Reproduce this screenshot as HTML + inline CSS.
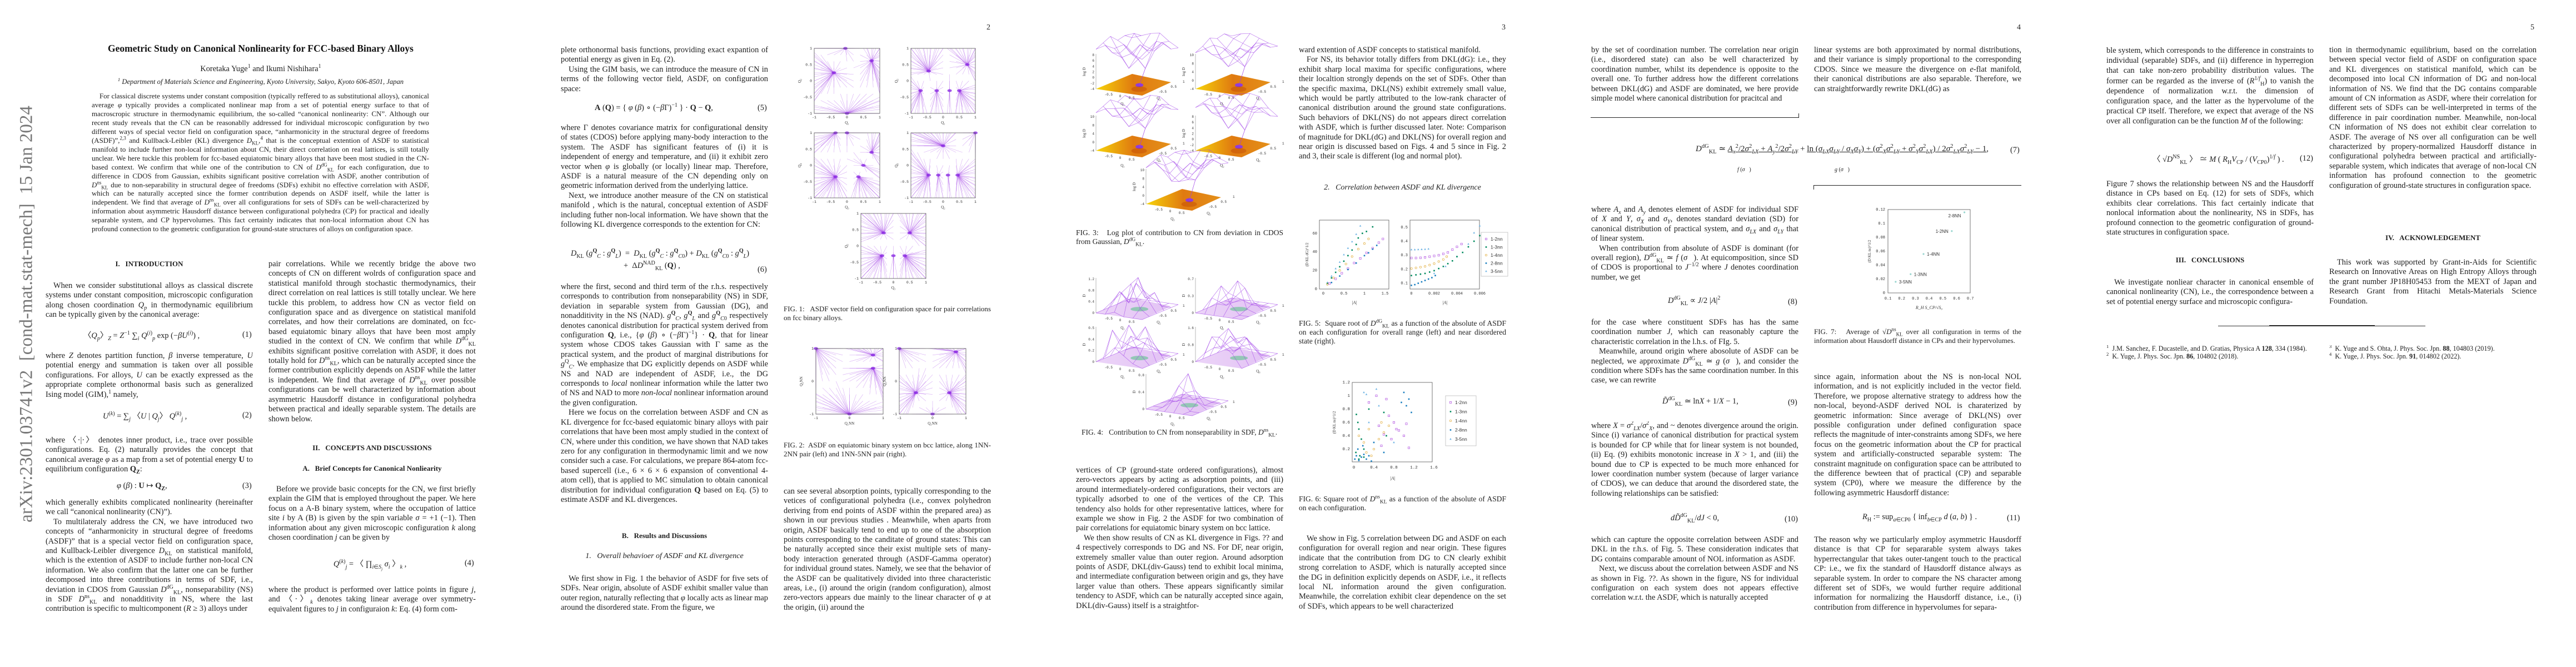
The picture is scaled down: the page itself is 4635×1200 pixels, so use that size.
<!DOCTYPE html>
<html><head><meta charset="utf-8">
<style>
html,body{margin:0;padding:0;background:#fff;}
body{width:4635px;height:1200px;overflow:hidden;position:relative;}
.pg{position:absolute;top:0;width:927px;height:1200px;background:#fff;}
.t{position:absolute;font-family:"Liberation Serif",serif;font-size:14.4px;line-height:17.4px;text-align:justify;overflow:hidden;color:#1e1e1e;hyphens:auto;}
.ind{text-indent:14px;}
.eq{position:absolute;font-family:"Liberation Serif",serif;font-size:14.4px;color:#1e1e1e;white-space:nowrap;}
.num{position:absolute;font-family:"Liberation Serif",serif;font-size:14.4px;color:#1e1e1e;}
.h{position:absolute;font-family:"Liberation Serif",serif;font-size:13px;font-weight:bold;text-align:center;color:#1e1e1e;white-space:nowrap;}
.hi{position:absolute;font-family:"Liberation Serif",serif;font-size:14px;font-style:italic;text-align:center;color:#1e1e1e;white-space:nowrap;}
.cap{position:absolute;font-family:"Liberation Serif",serif;font-size:13px;line-height:16px;text-align:justify;color:#222;overflow:hidden;}
.pn{position:absolute;font-family:"Liberation Serif",serif;font-size:14px;color:#222;top:42px;left:848px;}
svg{position:absolute;left:0;top:0;}
sub,sup{font-size:70%;line-height:0;}
</style></head><body>

<!-- PAGE 1 -->
<div class="pg" style="left:0">
<div style="position:absolute;left:48px;top:565px;transform:translate(-50%,-50%) rotate(-90deg);font-family:'Liberation Serif',serif;font-size:33px;color:#777;white-space:nowrap;">arXiv:2301.03741v2&nbsp; [cond-mat.stat-mech]&nbsp; 15 Jan 2024</div>
<div style="position:absolute;left:0;width:938px;top:77px;text-align:center;font-family:'Liberation Serif',serif;font-weight:bold;font-size:17.5px;color:#111;">Geometric Study on Canonical Nonlinearity for FCC-based Binary Alloys</div>
<div style="position:absolute;left:0;width:938px;top:116px;text-align:center;font-family:'Liberation Serif',serif;font-size:14.4px;color:#1e1e1e;">Koretaka Yuge<sup>1</sup> and Ikumi Nishihara<sup>1</sup></div>
<div style="position:absolute;left:0;width:938px;top:140px;text-align:center;font-family:'Liberation Serif',serif;font-style:italic;font-size:12.6px;color:#1e1e1e;"><sup>1</sup> Department of Materials Science and Engineering, Kyoto University, Sakyo, Kyoto 606-8501, Japan</div>
<div class="t ind" style="left:165px;top:166px;width:607px;height:272px;font-size:12.9px;line-height:15.95px;">For classical discrete systems under constant composition (typically reffered to as substitutional alloys), canonical average <i>φ</i> typically provides a complicated nonlinear map from a set of potential energy surface to that of macroscropic structure in thermodynamic equilibrium, the so-called “canonical nonlinearity: CN”. Although our recent study reveals that the CN can be reasonablly addressed for individual microscopic configuration by two different ways of special vector field on configuration space, “anharmonicity in the structural degree of freedoms (ASDF)”,<sup>2,3</sup> and Kullback-Leibler (KL) divergence <i>D</i><sub>KL</sub>,<sup>4</sup> that is the conceptual extention of ASDF to statistical manifold to include further non-local information about CN, their direct correlation on real lattices, is still totally unclear. We here tuckle this problem for fcc-based equiatomic binary alloys that have been most studied in the CN-based context. We confirm that while one of the contribution to CN of <i>D</i><sup>dG</sup><sub>KL</sub> for each configuration, due to difference in CDOS from Gaussian, exhibits significant positive correlation with ASDF, another contribution of <i>D</i><sup>ns</sup><sub>KL</sub> due to non-separability in structural degee of freedoms (SDFs) exhibit no effective correlation with ASDF, which can be naturally accepted since the former contribution depends on ASDF itself, while the latter is independent. We find that average of <i>D</i><sup>ns</sup><sub>KL</sub> over all configurations for sets of SDFs can be well-characterized by information about asymmetric Hausdorff distance between configurational polyhedra (CP) for practical and ideally separable system, and CP hypervolumes. This fact certainly indicates that non-local information about CN has profound connection to the geometric configuration for ground-state structures of alloys on configuration space.</div>
<div class="h" style="left:82px;width:373px;top:467px;">I.&nbsp;&nbsp; INTRODUCTION</div>
<div class="t ind" style="left:82px;top:506px;width:373px;height:70px;">When we consider substitutional alloys as classical discrete systems under constant composition, microscopic configuration along chosen coordination <i>Q<sub>p</sub></i> in thermodynamic equilibrium can be typically given by the canonical average:</div>
<div class="eq" style="left:150px;top:592px;">〈<i>Q<sub>p</sub></i>〉<sub><i>Z</i></sub> = <i>Z</i><sup>−1</sup> ∑<sub><i>i</i></sub> <i>Q</i><sup>(<i>i</i>)</sup><sub><i>p</i></sub> exp (−<i>βU</i><sup>(<i>i</i>)</sup>) ,</div>
<div class="num" style="left:436px;top:594px;">(1)</div>
<div class="t" style="left:82px;top:632px;width:373px;height:88px;">where <i>Z</i> denotes partition function, <i>β</i> inverse temperature, <i>U</i> potential energy and summation is taken over all possible configurations. For alloys, <i>U</i> can be exactly expressed as the appropriate complete orthonormal basis such as generalized Ising model (GIM),<sup>1</sup> namely,</div>
<div class="eq" style="left:185px;top:737px;"><i>U</i><sup>(<i>k</i>)</sup> = ∑<sub><i>j</i></sub> 〈<i>U</i> | <i>Q<sub>j</sub></i>〉 <i>Q</i><sup>(<i>k</i>)</sup><sub><i>j</i></sub> ,</div>
<div class="num" style="left:436px;top:739px;">(2)</div>
<div class="t" style="left:82px;top:784px;width:373px;height:70px;">where 〈·|·〉 denotes inner product, i.e., trace over possible configurations. Eq. (2) naturally provides the concept that canonical average <i>φ</i> as a map from a set of potential energy <b>U</b> to equilibrium configuration <b>Q<sub>Z</sub></b>:</div>
<div class="eq" style="left:210px;top:866px;"><i>φ</i> (<i>β</i>) : <b>U</b> ↦ <b>Q<sub>Z</sub></b>,</div>
<div class="num" style="left:436px;top:866px;">(3)</div>
<div class="t" style="left:82px;top:896px;width:373px;height:209px;">which generally exhibits complicated nonlinearity (hereinafter we call “canonical nonlinearity (CN)”).<br><span style="padding-left:14px"></span>To multilateraly address the CN, we have introduced two concepts of “anharmonicity in structural degree of freedoms (ASDF)” that is a special vector field on configuration space, and Kullback-Leibler divergence <i>D</i><sub>KL</sub> on statistical manifold, which is the extention of ASDF to include further non-local CN information. We also confirm that the latter one can be further decomposed into three contributions in terms of SDF, i.e., deviation in CDOS from Gaussian <i>D</i><sup>dG</sup><sub>KL</sub>, nonseparability (NS) in SDF <i>D</i><sup>ns</sup><sub>KL</sub> and nonadditivity in NS, where the last contribution is specific to multicomponent (<i>R</i> ≥ 3) alloys under</div>
<div class="t" style="left:483px;top:467px;width:373px;height:296px;">pair correlations. While we recently bridge the above two concepts of CN on different wolrds of configuration space and statistical manifold through stochastic thermodynamics, their direct correlation on real lattices is still totally unclear. We here tuckle this problem, to address how CN as vector field on configuration space and as divergence on statistical manifold correlates, and how their correlations are dominated, on fcc-based equiatomic binary alloys that have been most amply studied in the context of CN. We confirm that while <i>D</i><sup>dG</sup><sub>KL</sub> exhibits significant positive correlation with ASDF, it does not totally hold for <i>D</i><sup>ns</sup><sub>KL</sub>, which can be naturally accepted since the former contribution explicitly depends on ASDF while the latter is independent. We find that average of <i>D</i><sup>ns</sup><sub>KL</sub> over possible configurations can be well characterized by information about asymmetric Hausdorff distance in configurational polyhedra between practical and ideally separable system. The details are shown below.</div>
<div class="h" style="left:483px;width:373px;top:798px;">II.&nbsp;&nbsp; CONCEPTS AND DISCUSSIONS</div>
<div class="h" style="left:483px;width:373px;top:835px;">A.&nbsp;&nbsp; Brief Concepts for Canonical Nonliearity</div>
<div class="t ind" style="left:483px;top:872px;width:373px;height:105px;">Before we provide basic concepts for the CN, we first briefly explain the GIM that is employed throughout the paper. We here focus on a A-B binary system, where the occupation of lattice site <i>i</i> by A (B) is given by the spin variable <i>σ</i> = +1 (−1). Then information about any given microscopic configuration <i>k</i> along chosen coordination <i>j</i> can be given by</div>
<div class="eq" style="left:600px;top:1003px;"><i>Q</i><sup>(<i>k</i>)</sup><sub><i>j</i></sub> = 〈 ∏<sub><i>i</i>∈<i>S<sub>j</sub></i></sub> <i>σ<sub>i</sub></i> 〉<sub><i>k</i></sub> ,</div>
<div class="num" style="left:836px;top:1005px;">(4)</div>
<div class="t" style="left:483px;top:1053px;width:373px;height:53px;">where the product is performed over lattice points in figure <i>j</i>, and 〈·〉<sub><i>k</i></sub> denotes taking linear average over symmetry-equivalent figures to <i>j</i> in configuraion <i>k</i>: Eq. (4) form com-</div>
</div>

<!-- PAGE 2 -->
<div class="pg" style="left:927px">
<div class="pn">2</div>
<div class="t" style="left:82px;top:82px;width:373px;height:88px;">plete orthonormal basis functions, providing exact expantion of potential energy as given in Eq. (2).<br><span style="padding-left:14px"></span>Using the GIM basis, we can introduce the measure of CN in terms of the following vector field, ASDF, on configuration space:</div>
<div class="eq" style="left:143px;top:186px;"><b>A</b> (<b>Q</b>) = { <i>φ</i> (<i>β</i>) ∘ (−<i>β</i>Γ)<sup>−1</sup> } · <b>Q</b> − <b>Q</b>,</div>
<div class="num" style="left:436px;top:186px;">(5)</div>
<div class="t" style="left:82px;top:222px;width:373px;height:210px;">where Γ denotes covariance matrix for configurational density of states (CDOS) before applying many-body interaction to the system. The ASDF has significant features of (i) it is independent of energy and temperature, and (ii) it exhibit zero vector when <i>φ</i> is globally (or locally) linear map. Therefore, ASDF is a natural measure of the CN depending only on geometric information derived from the underlying lattice.<br><span style="padding-left:14px"></span>Next, we introduce another measure of the CN on statistical manifold , which is the natural, conceptual extention of ASDF including futher non-local information. We have shown that the following KL divergence corresponds to the extention for CN:</div>
<div class="eq" style="left:100px;top:445px;line-height:22px;"><i>D</i><sub>KL</sub> (<i>g</i><sup><b>Q</b></sup><sub><i>C</i></sub> : <i>g</i><sup><b>Q</b></sup><sub><i>L</i></sub>) &nbsp;=&nbsp; <i>D</i><sub>KL</sub> (<i>g</i><sup><b>Q</b></sup><sub><i>C</i></sub> : <i>g</i><sup><b>Q</b></sup><sub><i>C</i>0</sub>) + <i>D</i><sub>KL</sub> (<i>g</i><sup><b>Q</b></sup><sub><i>C</i>0</sub> : <i>g</i><sup><b>Q</b></sup><sub><i>L</i></sub>)<br><span style="padding-left:95px"></span>+ &nbsp;Δ<i>D</i><sup>NAD</sup><sub>KL</sub> (<b>Q</b>) ,</div>
<div class="num" style="left:436px;top:477px;">(6)</div>
<div class="t" style="left:82px;top:508px;width:373px;height:418px;">where the first, second and third term of the r.h.s. respectively corresponds to contribution from nonseparability (NS) in SDF, deviation in separable system from Gaussian (DG), and nonadditivity in the NS (NAD). <i>g</i><sup><b>Q</b></sup><sub><i>C</i></sub>, <i>g</i><sup><b>Q</b></sup><sub><i>L</i></sub> and <i>g</i><sup><b>Q</b></sup><sub><i>C</i>0</sub> respectively denotes canonical distribution for practical system derived from configuration <b>Q</b>, i.e., {<i>φ</i> (<i>β</i>) ∘ (−<i>β</i>Γ)<sup>−1</sup>} · <b>Q</b>, that for linear system whose CDOS takes Gaussian with Γ same as the practical system, and the product of marginal distributions for <i>g</i><sup>Q</sup><sub><i>C</i></sub>. We emphasize that DG explicitly depends on ASDF while NS and NAD are independent of ASDF, i.e., the DG corresponds to <i>local</i> nonlinear information while the latter two of NS and NAD to more <i>non-local</i> nonlinear information around the given configuration.<br><span style="padding-left:14px"></span>Here we focus on the correlation between ASDF and CN as KL divergence for fcc-based equiatomic binary alloys with pair correlations that have been most amply studied in the context of CN, where under this condition, we have shown that NAD takes zero for any configuration in thermodynamic limit and we now consider such a case. For calculations, we prepare 864-atom fcc-based supercell (i.e., 6 × 6 × 6 expansion of conventional 4-atom cell), that is applied to MC simulation to obtain canonical distribution for individual configuration <b>Q</b> based on Eq. (5) to estimate ASDF and KL divergences.</div>
<div class="h" style="left:82px;width:373px;top:956px;">B.&nbsp;&nbsp; Results and Discussions</div>
<div class="hi" style="left:82px;width:373px;top:993px;">1.&nbsp;&nbsp; Overall behavioer of ASDF and KL divergence</div>
<div class="t ind" style="left:82px;top:1033px;width:373px;height:70px;">We first show in Fig. 1 the behavior of ASDF for five sets of SDFs. Near origin, absolute of ASDF exhibit smaller value than outer region, naturally reflecting that <i>φ</i> locally acts as linear map around the disordered state. From the figure, we</div>
<div class="cap" style="left:483px;top:548px;width:373px;height:34px;">FIG. 1:&nbsp;&nbsp; ASDF vector field on configuration space for pair correlations on fcc binary alloys.</div>
<div class="cap" style="left:483px;top:793px;width:373px;height:34px;">FIG. 2:&nbsp; ASDF on equiatomic binary system on bcc lattice, along 1NN-2NN pair (left) and 1NN-5NN pair (right).</div>
<div class="t" style="left:483px;top:876px;width:373px;height:228px;">can see several absorption points, typically corresponding to the vetices of configurational polyhedra (i.e., convex polyhedron deriving from end points of ASDF within the prepared area) as shown in our previous studies . Meanwhile, when aparts from origin, ASDF basically tend to end up to one of the absorption points corresponding to the canditate of ground states: This can be naturally accepted since their exist multiple sets of many-body interaction generated through (ASDF-Gamma operator) for individual ground states. Namely, we see that the behavior of the ASDF can be qualitatively divided into three characteristic areas, i.e., (i) around the origin (random configuration), almost zero-vectors appears due mainly to the linear character of <i>φ</i> at the origin, (ii) around the</div>
<svg id="svg2" width="927" height="1200"></svg>
</div>

<!-- PAGE 3 -->
<div class="pg" style="left:1854px">
<div class="pn">3</div>
<div class="cap" style="left:82px;top:411px;width:373px;height:34px;font-size:13.5px;">FIG. 3:&nbsp;&nbsp; Log plot of contribution to CN from deviation in CDOS from Gaussian, <i>D</i><sup>dG</sup><sub>KL</sub>.</div>
<div class="cap" style="left:92px;top:770px;width:373px;height:18px;font-size:13.5px;">FIG. 4:&nbsp;&nbsp; Contribution to CN from nonseparability in SDF, <i>D</i><sup>ns</sup><sub>KL</sub>.</div>
<div class="t" style="left:82px;top:838px;width:373px;height:262px;">vertices of CP (ground-state ordered configurations), almost zero-vectors appears by acting as adsorption points, and (iii) around intermediately-ordered configurations, their vectors are typically adsorbed to one of the vertices of the CP. This tendency also holds for other representative lattices, where for example we show in Fig. 2 the ASDF for two combination of pair correlations for equiatomic binary system on bcc lattice.<br><span style="padding-left:14px"></span>We then show results of CN as KL divergence in Figs. ?? and 4 respectively corresponds to DG and NS. For DF, near origin, extremely smaller value than outer region. Around adsorption points of ASDF, DKL(div-Gauss) tend to exhibit local minima, and intermediate configuration between origin and gs, they have larger value than others. These appears significantly similar tendency to ASDF, which can be naturally accepted since again, DKL(div-Gauss) itself is a straightfor-</div>
<div class="t" style="left:483px;top:82px;width:373px;height:210px;">ward extention of ASDF concepts to statistical manifold.<br><span style="padding-left:14px"></span>For NS, its behavior totally differs from DKL(dG): i.e., they exhibit sharp local maxima for specific configurations, where their localtion strongly depends on the set of SDFs. Other than the specific maxima, DKL(NS) exhibit extremely small value, which would be partly attributed to the low-rank character of canonical distribution around the ground state configurations. Such behaviors of DKL(NS) do not appears direct correlation with ASDF, which is further discussed later. Note: Comparison of magnitude for DKL(dG) and DKL(NS) for overall region and near origin is discussed based on Figs. 4 and 5 since in Fig. 2 and 3, their scale is different (log and normal plot).</div>
<div class="hi" style="left:483px;width:373px;top:330px;">2.&nbsp;&nbsp; Correlation between ASDF and KL divergence</div>
<div class="cap" style="left:483px;top:574px;width:373px;height:50px;font-size:13.5px;">FIG. 5:&nbsp; Square root of <i>D</i><sup>dG</sup><sub>KL</sub> as a function of the absolute of ASDF on each configuration for overall range (left) and near disordered state (right).</div>
<div class="cap" style="left:483px;top:890px;width:373px;height:34px;font-size:13.5px;">FIG. 6: Square root of <i>D</i><sup>ns</sup><sub>KL</sub> as a function of the absolute of ASDF on each configuration.</div>
<div class="t ind" style="left:483px;top:961px;width:373px;height:140px;">We show in Fig. 5 correlation between DG and ASDF on each configuration for overall region and near origin. These figures indicate that the contribution from DG to CN clearly exhibit strong correlation to ASDF, which is naturally accepted since the DG in definition explicitly depends on ASDF, i.e., it reflects local NL information around the given configuration. Meanwhile, the correlation exhibit clear dependence on the set of SDFs, which appears to be well characterized</div>
<svg id="svg3" width="927" height="1200"></svg>
</div>

<!-- PAGE 4 -->
<div class="pg" style="left:2781px">
<div class="pn">4</div>
<div class="t" style="left:82px;top:82px;width:373px;height:105px;">by the set of coordination number. The correlation near origin (i.e., disordered state) can also be well characterized by coordination number, whilst its dependence is opposite to the overall one. To further address how the different correlations between DKL(dG) and ASDF are dominated, we here provide simple model where canonical distribution for pracitcal and</div>
<div style="position:absolute;left:81px;top:211px;width:374px;height:1px;background:#222;"></div>
<div style="position:absolute;left:455px;top:204px;width:1px;height:8px;background:#222;"></div>
<div class="eq" style="left:270px;top:258px;font-size:15px;"><i>D</i><sup>dG</sup><sub>KL</sub> ≃ <u><i>A</i><sub><i>x</i></sub><sup>2</sup>/2<i>σ</i><sup>2</sup><sub><i>LX</i></sub> + <i>A</i><sub><i>y</i></sub><sup>2</sup>/2<i>σ</i><sup>2</sup><sub><i>LY</i></sub></u> + <u>ln (<i>σ<sub>LX</sub>σ<sub>LY</sub></i> / <i>σ<sub>X</sub>σ<sub>Y</sub></i>) + (<i>σ</i><sup>2</sup><sub><i>X</i></sub><i>σ</i><sup>2</sup><sub><i>LY</i></sub> + <i>σ</i><sup>2</sup><sub><i>Y</i></sub><i>σ</i><sup>2</sup><sub><i>LX</i></sub>) / 2<i>σ</i><sup>2</sup><sub><i>LX</i></sub><i>σ</i><sup>2</sup><sub><i>LY</i></sub> − 1</u>,</div>
<div class="eq" style="left:345px;top:300px;font-size:10px;"><i>f</i> (<i>σ⃗</i>)</div>
<div class="eq" style="left:520px;top:300px;font-size:10px;"><i>g</i> (<i>σ⃗</i>)</div>
<div class="num" style="left:836px;top:262px;">(7)</div>
<div style="position:absolute;left:482px;top:333px;width:374px;height:1px;background:#222;"></div>
<div style="position:absolute;left:482px;top:333px;width:1px;height:8px;background:#222;"></div>
<div class="t" style="left:82px;top:369px;width:373px;height:140px;">where <i>A<sub>x</sub></i> and <i>A<sub>y</sub></i> denotes element of ASDF for individual SDF of <i>X</i> and <i>Y</i>, <i>σ<sub>X</sub></i> and <i>σ<sub>Y</sub></i>, denotes standard deviation (SD) for canonical distribution of practical system, and <i>σ<sub>LX</sub></i> and <i>σ<sub>LY</sub></i> that of linear system.<br><span style="padding-left:14px"></span>When contribution from absolute of ASDF is dominant (for overall region), <i>D</i><sup>dG</sup><sub>KL</sub> ≃ <i>f</i> (<i>σ⃗</i>). At equicomposition, since SD of CDOS is proportional to <i>J</i><sup>−1/2</sup> where <i>J</i> denotes coordination number, we get</div>
<div class="eq" style="left:220px;top:533px;"><i>D</i><sup>dG</sup><sub>KL</sub> ∝ <i>J</i>/2 |<i>A</i>|<sup>2</sup></div>
<div class="num" style="left:436px;top:535px;">(8)</div>
<div class="t" style="left:82px;top:572px;width:373px;height:123px;">for the case where constituent SDFs has has the same coordination number <i>J</i>, which can reasonably capture the characteristic correlation in the l.h.s. of FIg. 5.<br><span style="padding-left:14px"></span>Meanwhile, around origin where abosolute of ASDF can be neglected, we approximate <i>D</i><sup>dG</sup><sub>KL</sub> ≃ <i>g</i> (<i>σ⃗</i>), and consider the condition where SDFs has the same coordination number. In this case, we can rewrite</div>
<div class="eq" style="left:210px;top:714px;"><i>D̃</i><sup>dG</sup><sub>KL</sub> ≃ ln<i>X</i> + 1/<i>X</i> − 1,</div>
<div class="num" style="left:436px;top:716px;">(9)</div>
<div class="t" style="left:82px;top:758px;width:373px;height:140px;">where <i>X</i> = <i>σ</i><sup>2</sup><sub><i>LX</i></sub>/<i>σ</i><sup>2</sup><sub><i>X</i></sub>, and ~ denotes divergence around the origin. Since (i) variance of canonical distribution for practical system is bounded for CP while that for linear system is not bounded, (ii) Eq. (9) exhibits monotonic increase in <i>X</i> &gt; 1, and (iii) the bound due to CP is expected to be much more enhanced for lower coordination number system (because of larger variance of CDOS), we can deduce that around the disordered state, the following relationships can be satisfied:</div>
<div class="eq" style="left:225px;top:924px;"><i>dD̃</i><sup>dG</sup><sub>KL</sub>/<i>dJ</i> &lt; 0,</div>
<div class="num" style="left:430px;top:926px;">(10)</div>
<div class="t" style="left:82px;top:963px;width:373px;height:140px;">which can capture the opposite correlation between ASDF and DKL in the r.h.s. of Fig. 5. These consideration indicates that DG contains comparable amount of NOL information as ASDF.<br><span style="padding-left:14px"></span>Next, we discuss about the correlation between ASDF and NS as shown in Fig. ??. As shown in the figure, NS for individual configuration on each system does not appears effective correlation w.r.t. the ASDF, which is naturally accepted</div>
<div class="t" style="left:483px;top:82px;width:373px;height:88px;">linear systems are both approximated by normal distributions, and their variance is simply proportional to the corresponding CDOS. Since we measure the divergence on <i>e</i>-flat manifold, their canonical distributions are also separable. Therefore, we can straightforwardly rewrite DKL(dG) as</div>
<div class="cap" style="left:483px;top:589px;width:373px;height:34px;">FIG. 7:&nbsp;&nbsp; Average of √<i>D</i><sup>ns</sup><sub>KL</sub> over all configuration in terms of the information about Hausdorff distance in CPs and their hypervolumes.</div>
<div class="t" style="left:483px;top:670px;width:373px;height:227px;">since again, information about the NS is non-local NOL information, and is not explicitly included in the vector field. Therefore, we propose alternative strategy to address how the non-local, beyond-ASDF derived NOL is charaterized by geometric information: Since average of DKL(NS) over possible configuration under defined configuration space reflects the magnitude of inter-constraints among SDFs, we here focus on the geometric information about the CP for practical system and artificially-constructed separable system: The constraint magnitude on configuration space can be attributed to the difference bewteen that of practical (CP) and separable system (CP0), where we measure the difference by the following asymmetric Hausdorff distance:</div>
<div class="eq" style="left:570px;top:922px;"><i>R</i><sub>H</sub> := sup<sub><i>a</i>∈CP0</sub> { inf<sub><i>b</i>∈CP</sub> <i>d</i> (<i>a</i>, <i>b</i>) } .</div>
<div class="num" style="left:830px;top:924px;">(11)</div>
<div class="t" style="left:483px;top:963px;width:373px;height:140px;">The reason why we particularly employ asymmetric Hausdorff distance is that CP for separarable system always takes hyperrectangular that takes outer-tangent touch to the practical CP: i.e., we fix the standard of Hausdorff distance always as separable system. In order to compare the NS character among different set of SDFs, we would further require additional information for normalizing the Hausdorff distance, i.e., (i) contribution from difference in hypervolumes for separa-</div>
<svg id="svg4" width="927" height="1200"></svg>
</div>

<!-- PAGE 5 -->
<div class="pg" style="left:3708px">
<div class="pn" style="left:845px;">5</div>
<div class="t" style="left:82px;top:82px;width:373px;height:165px;line-height:18.2px;">ble system, which corresponds to the difference in constraints to individual (separable) SDFs, and (ii) difference in hyperregion that can take non-zero probability distribution values. The former can be regarded as the inverse of (<i>R</i><sup>1/<i>f</i></sup><sub>H</sub>) to vanish the dependence of normalization w.r.t. the dimension of configuration space, and the latter as the hypervolume of the practical CP itself. Therefore, we expect that average of the NS over all configuration can be the function <i>M</i> of the following:</div>
<div class="eq" style="left:165px;top:275px;">〈 √<i>D</i><sup>NS</sup><sub>KL</sub> 〉 ≃ <i>M</i> ( <i>R</i><sub>H</sub><i>V</i><sub>CP</sub> / (<i>V</i><sub>CP0</sub>)<sup>1/<i>f</i></sup> ) .</div>
<div class="num" style="left:430px;top:277px;">(12)</div>
<div class="t" style="left:82px;top:323px;width:373px;height:105px;">Figure 7 shows the relationship between NS and the Hausdorff distance in CPs based on Eq. (12) for sets of SDFs, which exhibits clear correlations. This fact certainly indicate that nonlocal information about the nonlinearity, NS in SDFs, has profound connection to the geometric configuration of ground-state structures in configuration space.</div>
<div class="h" style="left:82px;width:373px;top:460px;">III.&nbsp;&nbsp; CONCLUSIONS</div>
<div class="t ind" style="left:82px;top:500px;width:373px;height:53px;">We investigate nonliear character in canonical ensemble of canonical nonlinearity (CN), i.e., the correspondence between a set of potential energy surface and microscopic configura-</div>
<div class="t" style="left:483px;top:82px;width:373px;height:280px;">tion in thermodynamic equilibrium, based on the correlation between special vector field of ASDF on configuration space and KL divergences on statistical manifold, which can be decomposed into local CN information of DG and non-local information of NS. We find that the DG contains comparable amount of CN information as ASDF, where their correlation for different sets of SDFs can be well-interpreted in terms of the difference in pair coordination number. Meanwhile, non-local CN information of NS does not exhibit clear correlation to ASDF. The average of NS over all configuration can be well characterized by propery-normalized Hausdorff distance in configurational polyhedra between practical and artificially-separable system, which indicates that average of non-local CN information has profound connection to the geometric configuration of ground-state structures in configuration space.</div>
<div class="h" style="left:483px;width:373px;top:420px;">IV.&nbsp;&nbsp; ACKNOWLEDGEMENT</div>
<div class="t ind" style="left:483px;top:464px;width:373px;height:88px;">This work was supported by Grant-in-Aids for Scientific Research on Innovative Areas on High Entropy Alloys through the grant number JP18H05453 from the MEXT of Japan and Research Grant from Hitachi Metals-Materials Science Foundation.</div>
<div style="position:absolute;left:283px;top:586px;width:373px;height:1px;background:#333;"></div>
<div style="position:absolute;left:375px;top:585px;width:190px;height:2px;background:#222;"></div>
<div class="t" style="left:82px;top:621px;width:373px;height:60px;font-size:12.2px;line-height:13.5px;text-align:left;"><div style="padding-left:14px;text-indent:-14px;"><sup>1</sup>&nbsp; J.M. Sanchez, F. Ducastelle, and D. Gratias, Physica A <b>128</b>, 334 (1984).</div><div style="padding-left:14px;text-indent:-14px;"><sup>2</sup>&nbsp; K. Yuge, J. Phys. Soc. Jpn. <b>86</b>, 104802 (2018).</div></div>
<div class="t" style="left:483px;top:621px;width:373px;height:40px;font-size:12.2px;line-height:13.5px;text-align:left;"><div><sup>3</sup>&nbsp; K. Yuge and S. Ohta, J. Phys. Soc. Jpn. <b>88</b>, 104803 (2019).</div><div><sup>4</sup>&nbsp; K. Yuge, J. Phys. Soc. Jpn. <b>91</b>, 014802 (2022).</div></div>
</div>

<script>
// ---------- DATA ----------
// Fig 1 / Fig 2 attractor points (normalized coordinates -1..1)
const fig1Attractors1 = [[-0.05,1],[0.75,0.62],[0,-1],[-0.4,0.25]];
const fig1Attractors2 = [[0.75,0.5],[-0.45,0.3],[-0.7,-0.3],[-0.2,-0.3],[0.2,-0.3],[0.5,-0.3]];
const fig1Attractors3 = [[-0.35,1],[0,1],[0.75,0.4],[-0.35,-0.35],[0.35,-0.35],[0.5,0]];
const fig1Attractors4 = [[1,1],[-0.45,-0.3],[-0.15,-0.3],[0.15,-0.3],[0.45,-0.3],[0,0.6]];
const fig1Attractors5 = [[-0.3,0.4],[0.5,0.4],[-0.35,-0.3],[0,-0.3],[0.35,-0.3]];
const fig2Attractors1 = [[-1,1],[0.7,0.8],[0,-1],[0.7,0.4]];
const fig2Attractors2 = [[-1,1],[0.7,0.9],[0,-1],[-0.5,-0.35],[0.5,-0.35]];
const vecTicks = ['-1','-0.5','0','0.5','1'];

// Fig 3 / Fig 4 surface heights (6x6 grids, 0..1)
const fig3H1 = [[.7,.85,.8,.95,.7,.6],[.8,.55,.45,.6,.9,.7],[.9,.45,.05,.35,.65,.95],[.7,.55,.3,.0,.55,.8],[.75,.85,.55,.45,.7,.55],[.6,.7,.8,.85,.65,.5]];
const fig3H2 = [[.6,.75,.9,.85,.7,.65],[.7,.5,.4,.55,.8,.75],[.85,.4,.1,.3,.6,.9],[.75,.5,.35,.05,.5,.8],[.8,.7,.6,.5,.65,.6],[.65,.75,.8,.7,.6,.55]];
const fig3H3 = [[.65,.8,.85,.9,.75,.6],[.75,.5,.5,.6,.85,.7],[.85,.45,.15,.3,.6,.9],[.7,.6,.3,.05,.5,.75],[.8,.75,.5,.45,.7,.6],[.6,.65,.8,.8,.6,.5]];
const fig3H4 = [[.8,.95,.9,.95,.9,.8],[.85,.6,.5,.6,.95,.9],[.9,.5,.1,.4,.7,.85],[.8,.55,.3,.0,.55,.6],[.85,.8,.6,.5,.6,.4],[.7,.8,.85,.8,.5,.3]];
const fig3H5 = [[.6,.8,.75,.9,.7,.6],[.7,.5,.2,.5,.8,.7],[.8,.3,.1,.2,.55,.85],[.65,.45,.15,.1,.5,.75],[.7,.8,.5,.4,.65,.55],[.55,.65,.75,.8,.6,.5]];
const fig4H1 = [[0,0,.1,0,0,0],[0,.3,.6,.9,.2,0],[0,.5,.2,1,.4,0],[0,.2,.7,.3,.5,0],[0,0,.4,.2,0,0],[0,0,0,0,0,0]];
const fig4H2 = [[0,0,0,0,0,0],[0,.4,.8,.3,0,0],[0,.2,.5,.9,.1,0],[0,0,.3,.6,.2,0],[0,0,.1,0,0,0],[0,0,0,0,0,0]];
const fig4H3 = [[0,.2,.5,.3,.1,0],[0,.9,.4,.8,.3,0],[0,.5,1,.6,.7,0],[0,.3,.5,.9,.4,0],[0,.1,.3,.2,0,0],[0,0,0,0,0,0]];
const fig4H4 = [[0,.3,.5,.6,.4,0],[0,.7,.4,.8,.5,0],[0,.6,.9,.5,.7,0],[0,.3,.5,.6,.3,0],[0,0,.2,.3,0,0],[0,0,0,0,0,0]];
const fig4H5 = [[0,0,0,0,0,0],[0,0,.2,.3,0,0],[0,.1,.6,1,.2,0],[0,0,.3,.4,0,0],[0,0,0,.1,0,0],[0,0,0,0,0,0]];

// Fig 5 (left: overall range)
const fig5Series = ['1-2nn','1-3nn','1-4nn','2-8nn','3-5nn'];
const fig5LX_12 = [0.15,0.3,0.45,0.6,0.75,0.9,1.05,1.2,1.35,1.45];
const fig5LY_12 = [6,11,17,22,28,33,39,44,50,54];
const fig5LX_13 = [0.1,0.2,0.3,0.4,0.5,0.6,0.7,0.8,0.85,0.95,1.05,1.2];
const fig5LY_13 = [6,12,18,24,30,36,42,48,55,60,62,67];
const fig5LX_14 = [0.1,0.25,0.4,0.55,0.7,0.85,1.0,1.1];
const fig5LY_14 = [5,12,20,27,35,43,49,54];
const fig5LX_28 = [0.2,0.4,0.6,0.8,1.0,1.1,1.2,1.3];
const fig5LY_28 = [7,14,21,28,36,39,43,47];
const fig5LX_35 = [0.1,0.2,0.3,0.4,0.5,0.6,0.7,0.8,0.9];
const fig5LY_35 = [7,14,22,29,37,44,51,59,68];
// Fig 5 (right: near disordered state)
const fig5RX_12 = [0,0.0004,0.0008,0.0012,0.0016,0.002,0.0024,0.0028,0.0032,0.0036,0.004,0.0044];
const fig5RY_12 = [0.28,0.28,0.282,0.285,0.29,0.295,0.30,0.31,0.32,0.34,0.36,0.38];
const fig5RX_13 = [0,0.0004,0.0008,0.0012,0.0016,0.002,0.0024,0.0028,0.0032,0.0036,0.004,0.0045,0.005,0.0055,0.006];
const fig5RY_13 = [0.155,0.16,0.165,0.17,0.18,0.19,0.205,0.22,0.24,0.26,0.29,0.32,0.36,0.4,0.44];
const fig5RX_14 = [0,0.0004,0.0008,0.0012,0.0016,0.002,0.0024,0.0028,0.0031];
const fig5RY_14 = [0.205,0.21,0.215,0.22,0.23,0.24,0.255,0.27,0.29];
const fig5RX_28 = [0,0.0003,0.0006,0.0009,0.0012,0.0015,0.0018,0.0021];
const fig5RY_28 = [0.085,0.09,0.10,0.11,0.12,0.13,0.14,0.155];
const fig5RX_35 = [0,0.0003,0.0006,0.0009,0.0012,0.0015,0.002,0.003,0.004,0.005,0.0055,0.006];
const fig5RY_35 = [0.34,0.34,0.341,0.342,0.343,0.345,0.17,0.22,0.29,0.38,0.46,0.51];
// Fig 6
const fig6X_12 = [0.3,0.45,0.5,0.6,0.7,0.75,0.8,0.9,1.0,1.1,0.55,0.85,0.65,1.05];
const fig6Y_12 = [0.9,1.0,0.55,0.42,0.7,0.35,0.6,0.48,0.4,0.22,0.25,0.5,0.95,0.58];
const fig6X_13 = [0.05,0.08,0.1,0.15,0.2,0.3,0.6,0.65,0.1,0.04,0.12,0.2];
const fig6Y_13 = [0.72,0.6,0.5,0.35,0.2,0.8,0.75,0.4,0.05,0.15,0.1,0.08];
const fig6X_14 = [0.1,0.2,0.3,0.4,0.5,0.55,0.6,0.7,0.35,0.25];
const fig6Y_14 = [0.4,0.3,0.5,0.2,0.35,0.6,0.45,0.55,0.1,0.15];
const fig6X_28 = [0.02,0.05,0.1,0.15,0.2,0.25,0.3,0.35,0.95,1.0,1.05,1.1,1.15,0.4,0.6,0.08,0.18];
const fig6Y_28 = [0.05,0.1,0.03,0.08,0.12,0.05,0.1,0.02,0.9,1.05,0.85,0.95,0.75,0.3,0.15,0.2,0.25];
const fig6X_35 = [0.2,0.45,0.5,0.8,0.3,0.25];
const fig6Y_35 = [1.05,1.1,0.85,0.3,0.6,1.02];
// Fig 7
const fig7Labels = ['2-8NN','1-2NN','1-4NN','1-3NN','3-5NN'];
const fig7X = [0.657,0.565,0.359,0.265,0.156];
const fig7Y = [0.116,0.089,0.056,0.027,0.016];
const fig7XTicks = [0.1,0.2,0.3,0.4,0.5,0.6,0.7];
const fig7YTicks = [0,0.02,0.04,0.06,0.08,0.1,0.12];

const NS='http://www.w3.org/2000/svg';
function mk(parent, tag, attrs){const e=document.createElementNS(NS,tag);for(const k in attrs)e.setAttribute(k,attrs[k]);parent.appendChild(e);return e;}
function txt(parent,x,y,s,size,anchor,extra){const e=mk(parent,'text',{x:x,y:y,'font-size':size,'text-anchor':anchor||'middle','font-family':'Liberation Mono, monospace',fill:'#333'});if(extra)for(const k in extra)e.setAttribute(k,extra[k]);e.textContent=s;return e;}

// ---------- VECTOR FIELD PANELS ----------
function vecPanel(svg,name,bx,by,bw,bh,atts,xl,yl,fullTicks){
  const g=mk(svg,'g',{});
  
  
  const sx=u=>bx+(u+1)/2*bw, sy=v=>by+(1-(v+1)/2)*bh;
  const src=[];
  for(let i=0;i<=16;i++){const t=-1+i/8;src.push([t,1],[t,-1],[1,t],[-1,t]);}
  for(let i=0;i<=10;i++)for(let j=0;j<=10;j++)src.push([-1+i/5,-1+j/5]);
  const lines=mk(g,'g',{stroke:'#a545e6','stroke-width':0.6,'stroke-opacity':0.45});
  
  
  src.forEach(p=>{let best=null,bd=1e9;atts.forEach(a=>{const d=(a[0]-p[0])**2+(a[1]-p[1])**2;if(d<bd){bd=d;best=a;}});
    const l=mk(lines,'line',{x1:sx(p[0]),y1:sy(p[1]),x2:sx(best[0]),y2:sy(best[1])});
    
    });
  atts.forEach(a=>{const c=mk(g,'ellipse',{cx:sx(a[0]),cy:sy(a[1]),rx:4,ry:2.5,fill:'#8a2be2','fill-opacity':0.8});
    
    });
  const r=mk(g,'rect',{x:bx,y:by,width:bw,height:bh,fill:'none',stroke:'#555','stroke-width':0.8});
  
  
  const ticks=fullTicks?vecTicks:['-1','0','1'];
  ticks.forEach((t,i)=>{const v=-1+2*i/(ticks.length-1);
    const a=txt(g,sx(v),by+bh+9,t,6.5);
    const b=txt(g,bx-4,sy(v)+2,t,6.5,'end');});
  const xa=txt(g,bx+bw/2,by+bh+19,xl,7,'middle',{'font-family':'Liberation Serif, serif'});
  
  
  const ya=txt(g,bx-24,by+bh/2,yl,7,'middle',{'font-family':'Liberation Serif, serif',transform:`rotate(-90 ${bx-24} ${by+bh/2})`});
  
  
}
const s2=document.getElementById('svg2');
vecPanel(s2,'fig1-panel-q1-q2',538,87,118,117,fig1Attractors1,'Q₁','Q₂',true);
vecPanel(s2,'fig1-panel-q1-q3',712,87,116,117,fig1Attractors2,'Q₁','Q₃',true);
vecPanel(s2,'fig1-panel-q3-q4',538,239,118,117,fig1Attractors3,'Q₃','Q₄',true);
vecPanel(s2,'fig1-panel-q2-q6',712,239,116,117,fig1Attractors4,'Q₂','Q₆',true);
vecPanel(s2,'fig1-panel-q3-q5',622,384,117,117,fig1Attractors5,'Q₃','Q₅',true);
vecPanel(s2,'fig2-panel-1nn-2nn',541,627,121,118,fig2Attractors1,'Q₁NN','Q₂NN',false);
vecPanel(s2,'fig2-panel-1nn-5nn',691,627,120,118,fig2Attractors2,'Q₁NN','Q₅NN',false);

// ---------- 3D SURFACE PANELS ----------
function surf(svg,name,ox,oy,H,type,zlabels,xl,yl){
  const g=mk(svg,'g',{});
  
  
  const L=[ox+27,oy+71],B=[ox+92,oy+44],R=[ox+162,oy+59],F=[ox+110,oy+83];
  const P=(u,v)=>[L[0]+u*(B[0]-L[0])+v*(F[0]-L[0]),L[1]+u*(B[1]-L[1])+v*(F[1]-L[1])];
  const gid=name+'-grad';
  const defs=mk(g,'defs',{});
  const lg=mk(defs,'linearGradient',{id:gid,x1:0,y1:0,x2:1,y2:0});
  if(type==='dg'){mk(lg,'stop',{offset:'0','stop-color':'#f6d40a'});mk(lg,'stop',{offset:'0.5','stop-color':'#e07a10'});mk(lg,'stop',{offset:'1','stop-color':'#e4901a'});}
  else{mk(lg,'stop',{offset:'0','stop-color':'#ecd4f8'});mk(lg,'stop',{offset:'1','stop-color':'#e2c2f4'});}
  const base=mk(g,'polygon',{points:[L,B,R,F].map(p=>p.join(',')).join(' '),fill:`url(#${gid})`});
  
  
  const c=P(0.5,0.55);
  if(type==='dg'){const d=mk(g,'ellipse',{cx:c[0],cy:c[1],rx:7,ry:3.5,fill:'#8030ff','fill-opacity':0.85});
    
    
    const dk=mk(g,'ellipse',{cx:P(0.3,0.7)[0],cy:P(0.3,0.7)[1],rx:14,ry:5,fill:'#b83a00','fill-opacity':0.35});
    
    }
  else{const d=mk(g,'ellipse',{cx:c[0],cy:c[1],rx:16,ry:4,fill:'#5ec48c','fill-opacity':0.6});
    
    }
  const n=H.length-1;
  const lift=type==='dg'?[28,62]:[2,60];
  const pt=(i,j)=>{const p=P(i/n,j/n);return [p[0],p[1]-lift[0]-lift[1]*H[i][j]+(type==='dg'?0:lift[0])];};
  const mesh=mk(g,'g',{fill:'none',stroke:'#a040e8','stroke-width':0.7,'stroke-opacity':0.7});
  
  
  for(let i=0;i<=n;i++){let a=[],b=[];for(let j=0;j<=n;j++){a.push(pt(i,j).join(','));b.push(pt(j,i).join(','));}
    const l1=mk(mesh,'polyline',{points:a.join(' ')});
    const l2=mk(mesh,'polyline',{points:b.join(' ')});}
  if(type==='dg'){const t=pt(3,3);const dl=mk(g,'line',{x1:t[0],y1:t[1],x2:c[0],y2:c[1],stroke:'#a040e8','stroke-width':0.7});
    }
  const ax=mk(g,'line',{x1:L[0],y1:L[1],x2:L[0],y2:oy+8,stroke:'#888','stroke-width':0.6});
  
  
  zlabels.forEach((s,k)=>{const y=L[1]-k*(L[1]-oy-10)/(zlabels.length-1);const t=txt(g,L[0]-3,y+2,s,6,'end');});
  const zt=txt(g,ox+8,oy+40,type==='dg'?'log D':'D',7,'middle',{'font-family':'Liberation Serif, serif',transform:`rotate(-90 ${ox+8} ${oy+40})`});
  
  
  ['-0.5','0','0.5'].forEach((s,k)=>{const p=P(0,(k+1)/4);const t=txt(g,p[0]+2,p[1]+9,s,6);});
  ['-0.5','0.5','1'].forEach((s,k)=>{const p=P((k+1)/3,1);const t=txt(g,p[0]+8,p[1]+4,s,6,'start');});
  const xt=txt(g,ox+75,oy+100,xl,7,'middle',{'font-family':'Liberation Serif, serif'});
  
  
  const yt=txt(g,ox+140,oy+90,yl,7,'middle',{'font-family':'Liberation Serif, serif'});
  
  
}
const s3=document.getElementById('svg3');
const zdg=['-4','-2','0','2','4','6','8'], zdg10=['-4','0','4','8','10'];
surf(s3,'fig3-panel-1',91,89,fig3H1,'dg',zdg,'Q₁','Q₂');
surf(s3,'fig3-panel-2',270,89,fig3H2,'dg',zdg10,'Q₁','Q₃');
surf(s3,'fig3-panel-3',91,200,fig3H3,'dg',zdg10,'Q₁','Q₄');
surf(s3,'fig3-panel-4',270,200,fig3H4,'dg',zdg,'Q₂','Q₆');
surf(s3,'fig3-panel-5',181,296,fig3H5,'dg',zdg10,'Q₃','Q₅');
surf(s3,'fig4-panel-1',91,492,fig4H1,'ns',['0','0.4','0.8','1.2'],'Q₁','Q₂');
surf(s3,'fig4-panel-2',270,492,fig4H2,'ns',['0','0.3','0.7'],'Q₁','Q₃');
surf(s3,'fig4-panel-3',91,580,fig4H3,'ns',['0','0.2','0.4','0.5'],'Q₁','Q₄');
surf(s3,'fig4-panel-4',270,580,fig4H4,'ns',['0','0.8','1.6'],'Q₂','Q₆');
surf(s3,'fig4-panel-5',181,665,fig4H5,'ns',['0','0.4','0.8'],'Q₃','Q₅');

// ---------- SCATTER HELPERS ----------
const seriesColor={'1-2nn':'#b050e0','1-3nn':'#008a5e','1-4nn':'#e0a830','2-8nn':'#1a7fc0','3-5nn':'#6fb4e4'};
function marker(g,sname,x,y){
  const col=seriesColor[sname];let e;
  if(sname==='1-2nn')e=mk(g,'rect',{x:x-1.6,y:y-1.6,width:3.2,height:3.2,fill:'none',stroke:col,'stroke-width':0.7});
  else if(sname==='1-4nn')e=mk(g,'circle',{cx:x,cy:y,r:1.7,fill:'none',stroke:col,'stroke-width':0.7});
  else if(sname==='3-5nn')e=mk(g,'polygon',{points:`${x},${y-2} ${x-1.8},${y+1.2} ${x+1.8},${y+1.2}`,fill:col});
  else e=mk(g,'rect',{x:x-1.3,y:y-1.3,width:2.6,height:2.6,fill:col});
  return e;
}
function axisFrame(g,bx,by,bw,bh){const r=mk(g,'rect',{x:bx,y:by,width:bw,height:bh,fill:'none',stroke:'#555','stroke-width':0.8});
  }
function legend(g,x,y,w,h,step){
  const box=mk(g,'rect',{x:x,y:y,width:w,height:h,fill:'#fff',stroke:'#bbb','stroke-width':0.8});
  
  fig5Series.forEach((s,i)=>{const yy=y+12+i*step;const m=marker(g,s,x+9,yy);
    
    const t=txt(g,x+17,yy+3,s,8.5,'start',{'font-family':'Liberation Sans, sans-serif'});
    });
}
function scatter(g,X,Y,sname,fx,fy){
  X.forEach((v,i)=>{const m=marker(g,sname,fx(v),fy(Y[i]));
    
    });
}

// Fig 5 left
(function(){
  const g=mk(s3,'g',{});
  
  
  const fx=v=>527+v*74, fy=v=>520-v*1.67;
  axisFrame(g,520,396,125,124);
  [['0',0],['0.5',0.5],['1',1],['1.5',1.5]].forEach(t=>{const e=txt(g,fx(t[1]),530,t[0],7);});
  [0,20,40,60].forEach(v=>{const e=txt(g,516,fy(v)+2,String(v),7,'end');});
  scatter(g,fig5LX_35,fig5LY_35,'3-5nn',fx,fy);
  scatter(g,fig5LX_13,fig5LY_13,'1-3nn',fx,fy);
  scatter(g,fig5LX_14,fig5LY_14,'1-4nn',fx,fy);
  scatter(g,fig5LX_12,fig5LY_12,'1-2nn',fx,fy);
  scatter(g,fig5LX_28,fig5LY_28,'2-8nn',fx,fy);
  const xt=txt(g,583,547,'|A|',8,'middle',{'font-family':'Liberation Serif, serif','font-style':'italic'});
  
  const yt=txt(g,500,458,'(D KL dG)^1/2',7,'middle',{'font-family':'Liberation Serif, serif',transform:'rotate(-90 500 458)'});
  
})();
// Fig 5 right
(function(){
  const g=mk(s3,'g',{});
  
  
  const fx=v=>685.5+v*20500, fy=v=>509.6-(v-0.1)*252;
  axisFrame(g,683,396,125,124);
  [['0',0],['0.002',0.002],['0.004',0.004],['0.006',0.006]].forEach(t=>{const e=txt(g,fx(t[1]),530,t[0],7);});
  [0.1,0.2,0.3,0.4,0.5].forEach(v=>{const e=txt(g,679,fy(v)+2,v.toFixed(1),7,'end');});
  scatter(g,fig5RX_35,fig5RY_35,'3-5nn',fx,fy);
  scatter(g,fig5RX_28,fig5RY_28,'2-8nn',fx,fy);
  scatter(g,fig5RX_14,fig5RY_14,'1-4nn',fx,fy);
  scatter(g,fig5RX_13,fig5RY_13,'1-3nn',fx,fy);
  scatter(g,fig5RX_12,fig5RY_12,'1-2nn',fx,fy);
  const xt=txt(g,746,547,'|A|',8,'middle',{'font-family':'Liberation Serif, serif','font-style':'italic'});
  
  legend(g,811,418,48,79,14.5);
})();
// Fig 6
(function(){
  const g=mk(s3,'g',{});
  
  
  const fx=v=>582+v*90, fy=v=>832-v*120;
  axisFrame(g,579,688,144,143);
  [0,0.4,0.8,1.2,1.6].forEach(v=>{const e=txt(g,fx(v),843,String(v),7.5);});
  [0.2,0.4,0.6,0.8,1,1.2].forEach(v=>{const e=txt(g,575,fy(v)+2,String(v),7.5,'end');});
  scatter(g,fig6X_12,fig6Y_12,'1-2nn',fx,fy);
  scatter(g,fig6X_14,fig6Y_14,'1-4nn',fx,fy);
  scatter(g,fig6X_13,fig6Y_13,'1-3nn',fx,fy);
  scatter(g,fig6X_28,fig6Y_28,'2-8nn',fx,fy);
  scatter(g,fig6X_35,fig6Y_35,'3-5nn',fx,fy);
  const xt=txt(g,652,863,'|A|',8,'middle',{'font-family':'Liberation Serif, serif','font-style':'italic'});
  
  const yt=txt(g,549,760,'(D KL ns)^1/2',7,'middle',{'font-family':'Liberation Serif, serif',transform:'rotate(-90 549 760)'});
  
  legend(g,747,712,55,90,16.5);
})();
// Fig 7
(function(){
  const s4=document.getElementById('svg4');
  const g=mk(s4,'g',{});
  
  
  const fx=v=>616+(v-0.1)*247, fy=v=>527-v*1250;
  axisFrame(g,616,377,148,150);
  fig7XTicks.forEach(v=>{const e=txt(g,fx(v),539,String(v),7);});
  fig7YTicks.forEach(v=>{const e=txt(g,611,fy(v)+2,String(v),7,'end');});
  fig7X.forEach((v,i)=>{
    const c=mk(g,'circle',{cx:fx(v),cy:fy(fig7Y[i]),r:1.6,fill:'#9ad6d0'});
    
    
    const t=txt(g,fx(v)+(i<2?-6:6),fy(fig7Y[i])+(i===0?9:3),fig7Labels[i],8,i<2?'end':'start',{'font-family':'Liberation Sans, sans-serif'});
    
    
  });
  const xt=txt(g,690,556,'R_H S_CP/√S₀',8,'middle',{'font-family':'Liberation Serif, serif','font-style':'italic'});
  
  const yt=txt(g,585,452,'(D KL ns)^1/2',7,'middle',{'font-family':'Liberation Serif, serif',transform:'rotate(-90 585 452)'});
  
})();
</script>
</body></html>
